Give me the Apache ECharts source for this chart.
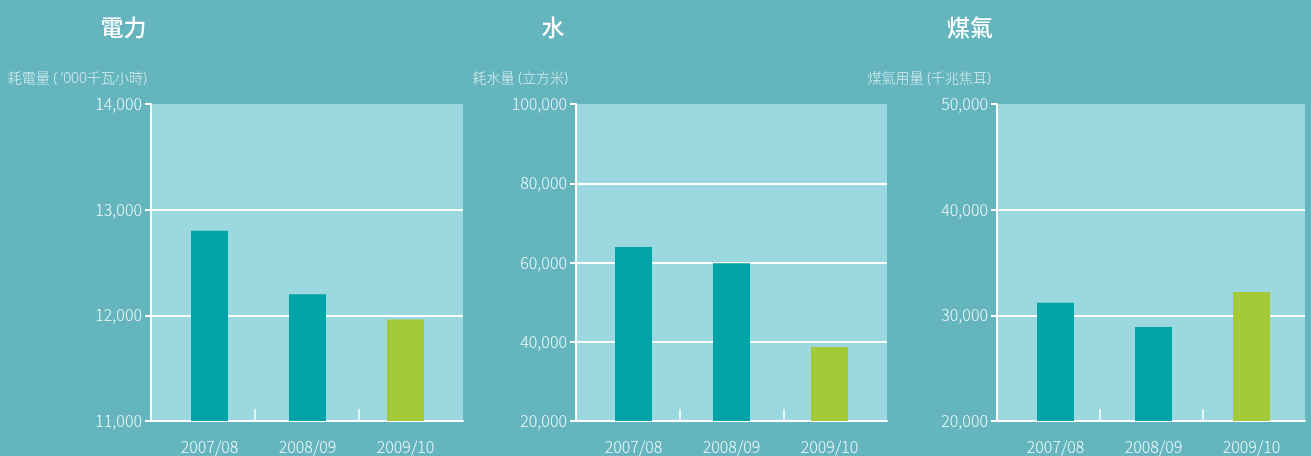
<!DOCTYPE html>
<html>
<head>
<meta charset="utf-8">
<script src="https://cdn.jsdelivr.net/npm/echarts@6/dist/echarts.min.js"></script>
<style>
html,body{margin:0;padding:0;background:#64B5BE;}
#c{width:1311px;height:456px;}
</style>
</head>
<body>
<div id="c"></div>
<script>
// ---- data ----
const categories = ['2007/08', '2008/09', '2009/10'];
const titles = ['電力', '水', '煤氣'];
const axisNames = ['耗電量 ( ‘000千瓦小時)', '耗水量 (立方米)', '煤氣用量 (千兆焦耳)'];
const electricity = [12800, 12200, 11960];
const water = [63900, 59800, 38700];
const gas = [31200, 28900, 32200];
const yMins = [11000, 20000, 20000];
const yMaxs = [14000, 100000, 50000];
const yIntervals = [1000, 20000, 10000];
const tickSlots = ['', '', '', ''];

const seriesData = [electricity, water, gas];

// ---- layout / style ----
const BG = '#64B5BE', PLOT = '#9CD8DF', TEAL = '#00A4A6', GREEN = '#A5CA39';
const NUMFONT = '"Noto Sans CJK TC", sans-serif';
const TOP = 104, HEIGHT = 317;
const bgGrids = [{left:151,width:312},{left:576,width:311},{left:997,width:308}];
const barGrids = [{left:160.5,width:294},{left:584.5,width:294},{left:1006.5,width:294}];
const titlePos = [{x:123.5},{x:553},{x:970}];
const namePos = [{x:147},{x:568},{x:991}];

const grid = [], xAxis = [], yAxis = [], series = [], graphic = [];
for (let i = 0; i < 3; i++) {
  grid.push({left: bgGrids[i].left, top: TOP, width: bgGrids[i].width, height: HEIGHT,
    show: true, backgroundColor: PLOT, borderWidth: 0, containLabel: false});
  grid.push({left: barGrids[i].left, top: TOP, width: barGrids[i].width, height: HEIGHT,
    show: false, containLabel: false});
  const g0 = 2*i, g1 = 2*i+1;
  xAxis.push({type:'category', gridIndex:g0, data:tickSlots, boundaryGap:false,
    axisLine:{show:true, lineStyle:{color:'#fff', width:2}},
    axisTick:{show:true, inside:true, length:12, interval:(idx) => idx === 1 || idx === 2,
      lineStyle:{color:'#fff', width:1.5}},
    axisLabel:{show:false}, splitLine:{show:false}});
  xAxis.push({type:'category', gridIndex:g1, data:categories, boundaryGap:true,
    axisLine:{show:false}, axisTick:{show:false},
    axisLabel:{show:true, interval:0, margin:18, color:'#F2FAFA', fontSize:16, fontWeight:300,
      fontFamily:NUMFONT},
    splitLine:{show:false}});
  yAxis.push({type:'value', gridIndex:g0, min:yMins[i], max:yMaxs[i], interval:yIntervals[i],
    axisLine:{show:true, lineStyle:{color:'#fff', width:2}},
    axisTick:{show:true, length:6, lineStyle:{color:'#fff', width:2}},
    axisLabel:{show:true, margin:9, color:'#F2FAFA', fontSize:16, fontWeight:300, fontFamily:NUMFONT,
      formatter: v => v.toLocaleString('en-US')},
    splitLine:{show:true, showMinLine:false, showMaxLine:false, lineStyle:{color:'#fff', width:2}}});
  yAxis.push({type:'value', gridIndex:g1, min:yMins[i], max:yMaxs[i], interval:yIntervals[i],
    show:false, splitLine:{show:false}});
  series.push({type:'bar', xAxisIndex:2*i+1, yAxisIndex:2*i+1, data:seriesData[i], barWidth:37,
    itemStyle:{color: p => p.dataIndex === 2 ? GREEN : TEAL}, silent:true, animation:false});
  graphic.push({type:'text', x:titlePos[i].x, y:27,
    style:{text:titles[i], fill:'#fff', font:'500 23px "Noto Sans CJK TC", sans-serif',
      textAlign:'center', textVerticalAlign:'middle'}});
  graphic.push({type:'text', x:namePos[i].x, y:79,
    style:{text:axisNames[i], fill:'rgba(235,247,248,0.88)',
      font:'300 14px "Noto Sans", "Noto Sans CJK TC", sans-serif',
      textAlign:'right', textVerticalAlign:'middle'}});
}

const chart = echarts.init(document.getElementById('c'), null, {renderer:'canvas'});
chart.setOption({
  backgroundColor: BG,
  animation: false,
  grid, xAxis, yAxis, series, graphic
});
</script>
</body>
</html>
